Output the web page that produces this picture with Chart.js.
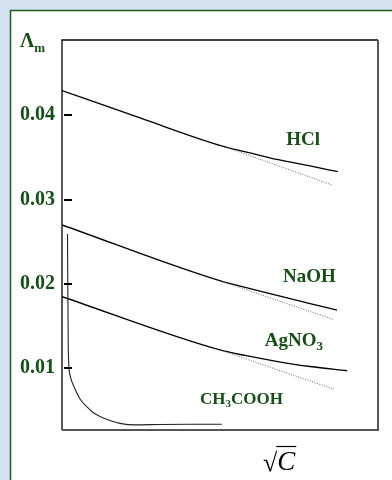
<!DOCTYPE html>
<html><head><meta charset="utf-8">
<script src="https://cdn.jsdelivr.net/npm/chart.js@4.4.0/dist/chart.umd.min.js"></script>
<style>html,body{margin:0;padding:0;background:#d4e2f2;}canvas{display:block}</style>
</head><body>
<canvas id="c" width="392" height="480"></canvas>
<script>
// ---- data (x = sqrt(C), arbitrary units 0..100; y = molar conductivity) ----
const xMin = 0, xMax = 100;
const yMin = 0.00267, yMax = 0.04893;
const yTicks = [0.01, 0.02, 0.03, 0.04];
const yTickLabels = ['0.01', '0.02', '0.03', '0.04'];

const hclX = [0, 24.7, 52.2, 59.5, 68.0, 78.5, 87.3];
const hclY = [0.04294, 0.03968, 0.03618, 0.03553, 0.03476, 0.03399, 0.03331];
const hclLimX = [52.2, 85.7];
const hclLimY = [0.03618, 0.03170];

const naohX = [0, 50.9, 59.5, 69.0, 78.5, 87.0];
const naohY = [0.02699, 0.02026, 0.01945, 0.01856, 0.01767, 0.01690];
const naohLimX = [50.9, 85.7];
const naohLimY = [0.02026, 0.01580];

const agX = [0, 50.0, 57.9, 67.4, 78.5, 90.2];
const agY = [0.01848, 0.01216, 0.01151, 0.01085, 0.01020, 0.00970];
const agLimX = [50.0, 86.1];
const agLimY = [0.01216, 0.00750];

const acX = [1.74, 1.99, 2.53, 4.11, 5.70, 7.91, 9.81, 12.03, 15.19, 18.35, 23.10, 31.01, 40.5, 50.6];
const acY = [0.02592, 0.01216, 0.00919, 0.00753, 0.00635, 0.00540, 0.00474, 0.00427, 0.00380, 0.00346, 0.00328, 0.00333, 0.00335, 0.00335];

// label anchors in data units
const labels = [
  {text: 'HCl', x: 76.3, y: 0.03707, align: 'center'},
  {text: 'NaOH', x: 78.3, y: 0.02082, align: 'center'}
];
const agLabel = {main: 'AgNO', sub: '3', x: 64.2, y: 0.01263};
const acLabel = {a: 'CH', sub: '3', b: 'COOH', x: 43.7, y: 0.00575};

const pts = (xs, ys) => xs.map((x, i) => ({x, y: ys[i]}));
const GREEN = '#154f15';

const solid = (data) => ({data, borderColor: '#000', borderWidth: 1.3, pointRadius: 0, cubicInterpolationMode: 'monotone', fill: false});
const dotted = (data) => ({data, borderColor: '#666', borderWidth: 1, borderDash: [1, 1.5], pointRadius: 0, fill: false});

const deco = {
  id: 'deco',
  beforeDraw(chart) {
    const {ctx, width, height} = chart;
    ctx.save();
    ctx.fillStyle = '#d4e2f2';
    ctx.fillRect(0, 0, width, height);
    ctx.fillStyle = '#ffffff';
    ctx.fillRect(10, 10, width - 10, height - 10);
    ctx.strokeStyle = '#1f5a1f';
    ctx.lineWidth = 1.5;
    ctx.beginPath();
    ctx.moveTo(10.5, height);
    ctx.lineTo(10.5, 10.5);
    ctx.lineTo(width, 10.5);
    ctx.stroke();
    ctx.restore();
  },
  afterDatasetsDraw(chart) {
    const {ctx, chartArea: a, scales: {x, y}} = chart;
    ctx.save();
    // box
    ctx.strokeStyle = '#000';
    ctx.lineWidth = 1.3;
    ctx.beginPath();
    ctx.moveTo(a.left, a.bottom);
    ctx.lineTo(a.left, a.top);
    ctx.lineTo(a.right, a.top);
    ctx.stroke();
    ctx.strokeStyle = '#555';
    ctx.lineWidth = 2;
    ctx.beginPath();
    ctx.moveTo(a.right, a.top);
    ctx.lineTo(a.right, a.bottom);
    ctx.lineTo(a.left, a.bottom);
    ctx.stroke();
    // inner tick marks
    ctx.strokeStyle = '#000';
    ctx.lineWidth = 2;
    yTicks.forEach(v => {
      const py = Math.round(y.getPixelForValue(v));
      ctx.beginPath();
      ctx.moveTo(a.left + 2, py);
      ctx.lineTo(a.left + 10, py);
      ctx.stroke();
    });
    // species labels
    ctx.fillStyle = GREEN;
    ctx.textBaseline = 'middle';
    ctx.font = 'bold 19px "Liberation Serif"';
    labels.forEach(l => {
      ctx.textAlign = l.align;
      ctx.fillText(l.text, x.getPixelForValue(l.x), y.getPixelForValue(l.y));
    });
    ctx.textBaseline = 'alphabetic';
    ctx.textAlign = 'left';
    let px = x.getPixelForValue(agLabel.x), py = y.getPixelForValue(agLabel.y);
    ctx.font = 'bold 19px "Liberation Serif"';
    ctx.fillText(agLabel.main, px, py);
    let w = ctx.measureText(agLabel.main).width;
    ctx.font = 'bold 13px "Liberation Serif"';
    ctx.fillText(agLabel.sub, px + w, py + 4);
    px = x.getPixelForValue(acLabel.x); py = y.getPixelForValue(acLabel.y);
    ctx.font = 'bold 17px "Liberation Serif"';
    ctx.fillText(acLabel.a, px, py);
    w = ctx.measureText(acLabel.a).width;
    ctx.font = 'bold 11px "Liberation Serif"';
    ctx.fillText(acLabel.sub, px + w, py + 3);
    const w2 = ctx.measureText(acLabel.sub).width;
    ctx.font = 'bold 17px "Liberation Serif"';
    ctx.fillText(acLabel.b, px + w + w2, py);
    // y axis title  Λm
    ctx.font = 'bold 20px "Liberation Serif"';
    ctx.fillText('Λ', 20, 47);
    const lw = ctx.measureText('Λ').width;
    ctx.font = 'bold 13px "Liberation Serif"';
    ctx.fillText('m', 20 + lw, 52);
    // x axis title  √C
    const cx = (a.left + a.right) / 2 + 60;
    ctx.fillStyle = '#000';
    ctx.font = '26px "Liberation Serif"';
    ctx.fillText('√', cx - 17, 471);
    const rw = ctx.measureText('√').width;
    ctx.font = 'italic 27px "Liberation Serif"';
    ctx.fillText('C', cx - 17 + rw, 470);
    const cw = ctx.measureText('C').width;
    ctx.strokeStyle = '#000';
    ctx.lineWidth = 1.2;
    ctx.beginPath();
    ctx.moveTo(cx - 17 + rw - 1, 446.5);
    ctx.lineTo(cx - 17 + rw + cw + 1, 446.5);
    ctx.stroke();
    ctx.restore();
  }
};

new Chart(document.getElementById('c'), {
  type: 'line',
  data: {
    datasets: [
      dotted(pts(hclLimX, hclLimY)),
      dotted(pts(naohLimX, naohLimY)),
      dotted(pts(agLimX, agLimY)),
      solid(pts(hclX, hclY)),
      solid(pts(naohX, naohY)),
      solid(pts(agX, agY)),
      {data: pts(acX, acY), borderColor: '#222', borderWidth: 1.1, pointRadius: 0, cubicInterpolationMode: 'monotone', fill: false}
    ]
  },
  options: {
    responsive: false,
    animation: false,
    layout: {padding: {left: 0, top: 40, right: 14, bottom: 50}},
    plugins: {legend: {display: false}, tooltip: {enabled: false}},
    scales: {
      x: {type: 'linear', min: xMin, max: xMax, display: false},
      y: {
        type: 'linear', min: yMin, max: yMax,
        afterBuildTicks: s => { s.ticks = yTicks.map(v => ({value: v})); },
        afterFit: s => { s.width = 62; },
        grid: {display: false, drawTicks: false},
        border: {display: false},
        ticks: {
          padding: 7,
          color: GREEN,
          font: {family: 'Liberation Serif', size: 20, weight: 'bold'},
          callback: (v) => { const i = yTicks.indexOf(v); return i >= 0 ? yTickLabels[i] : ''; }
        }
      }
    }
  },
  plugins: [deco]
});
</script>
</body></html>
